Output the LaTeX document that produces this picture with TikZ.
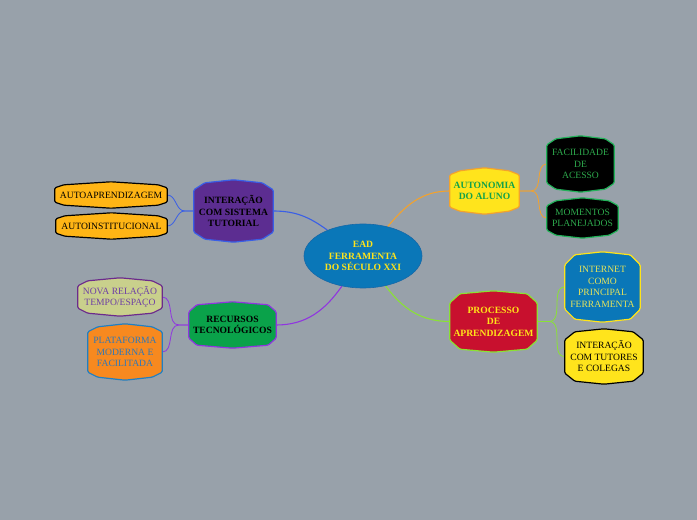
\documentclass[tikz,border=0pt]{standalone}
\usepackage{fontspec}
\setmainfont{Liberation Serif}
\usetikzlibrary{shapes.geometric,calc,backgrounds}
\definecolor{bg}{HTML}{98A1AA}
\definecolor{ctrfill}{HTML}{0A77B8}
\definecolor{ctrdraw}{HTML}{1668A8}
\definecolor{ytxt}{HTML}{FFE419}
\definecolor{purp}{HTML}{5C2D91}
\definecolor{blueline}{HTML}{3A5FE6}
\definecolor{orfill}{HTML}{FFB515}
\definecolor{grfill}{HTML}{0AA24A}
\definecolor{purline}{HTML}{9035E0}
\definecolor{khaki}{HTML}{C9D08C}
\definecolor{khdraw}{HTML}{6C2A8C}
\definecolor{khtxt}{HTML}{6E3FA5}
\definecolor{orange2}{HTML}{F7891F}
\definecolor{pldraw}{HTML}{1F7FC4}
\definecolor{pltxt}{HTML}{2F78B8}
\definecolor{yfill}{HTML}{FFE41C}
\definecolor{orline}{HTML}{F2A22E}
\definecolor{gtxt}{HTML}{13A24A}
\definecolor{gdraw}{HTML}{23B25A}
\definecolor{gtxt2}{HTML}{2DA84C}
\definecolor{crimson}{HTML}{C8102E}
\definecolor{lgline}{HTML}{8AE234}
\definecolor{inettxt}{HTML}{E6E35B}
% #1 name, #2 a (chamfer width), #3 total drop from peak to side corner, #4 style
\newcommand\octo[4]{%
 \path[#4] ($(#1.north west)+(0pt,-#3pt)$) -- ($(#1.north west)+(#2pt,-3pt)$) -- (#1.north) -- ($(#1.north east)+(-#2pt,-3pt)$) -- ($(#1.north east)+(0pt,-#3pt)$) -- ($(#1.south east)+(0pt,#3pt)$) -- ($(#1.south east)+(-#2pt,3pt)$) -- (#1.south) -- ($(#1.south west)+(#2pt,3pt)$) -- ($(#1.south west)+(0pt,#3pt)$) -- cycle;}
\tikzset{
 box/.style={draw=none, inner sep=0pt, align=center, font=\fontsize{9.6}{11.5}\selectfont},
 bbox/.style={box, font=\fontsize{9.6}{11.5}\selectfont\bfseries},
 shp/.style={line width=1.2pt, rounded corners=1.2pt},
 main/.style={line width=1.1pt},
 sub/.style={line width=0.8pt},
}
\begin{document}
\begin{tikzpicture}[x=1pt,y=1pt]
\useasboundingbox (0,0) rectangle (697,520);
% central
\node[ellipse, fill=ctrfill, draw=ctrdraw, line width=0.6pt, minimum width=118pt, minimum height=64pt, inner sep=0pt, align=center, text=ytxt, font=\fontsize{9.6}{11.5}\selectfont\bfseries] (ctr) at (363,264) {EAD\\FERRAMENTA\\DO SÉCULO XXI};
% nodes
\node[bbox, minimum width=79pt, minimum height=62pt] (int) at (233.5,309) {INTERAÇÃO\\COM SISTEMA\\TUTORIAL};
\node[box, minimum width=112pt, minimum height=26pt] (autoap) at (111,325) {AUTOAPRENDIZAGEM};
\node[box, minimum width=111pt, minimum height=26pt] (autoin) at (111.5,294) {AUTOINSTITUCIONAL};
\node[bbox, minimum width=87pt, minimum height=46pt] (rec) at (232.5,195) {RECURSOS\\TECNOLÓGICOS};
\node[box, text=khtxt, minimum width=84pt, minimum height=38pt] (nova) at (120,223) {NOVA RELAÇÃO\\TEMPO/ESPAÇO};
\node[box, text=pltxt, minimum width=74pt, minimum height=56pt] (plat) at (125,168) {PLATAFORMA\\MODERNA E\\FACILITADA};
\node[bbox, text=gtxt, minimum width=69pt, minimum height=46pt] (auto) at (484.5,329) {AUTONOMIA\\DO ALUNO};
\node[box, text=gtxt2, minimum width=67pt, minimum height=56pt] (fac) at (580.5,356) {FACILIDADE\\DE\\ACESSO};
\node[box, text=gtxt2, minimum width=71pt, minimum height=40pt] (mom) at (582.5,302) {MOMENTOS\\PLANEJADOS};
\node[bbox, text=ytxt, minimum width=87pt, minimum height=61pt] (proc) at (493.5,198.5) {PROCESSO\\DE\\APRENDIZAGEM};
\node[box, text=inettxt, minimum width=75pt, minimum height=70pt] (inet) at (602.5,233) {INTERNET\\COMO\\PRINCIPAL\\FERRAMENTA};
\node[box, minimum width=78pt, minimum height=55pt] (tut) at (604,163.5) {INTERAÇÃO\\COM TUTORES\\E COLEGAS};
\begin{pgfonlayer}{background}
\fill[bg] (0,0) rectangle (697,520);
% connectors
\draw[main, blueline] (int.east) to[out=0,in=144] (ctr.144);
\draw[sub, blueline] (int.west) -- ++(-9,0) to[out=180,in=0] (autoap.east);
\draw[sub, blueline] (int.west) -- ++(-9,0) to[out=180,in=0] (autoin.east);
\draw[main, purline] (ctr.235) to[out=235,in=0] (rec.east);
\draw[sub, purline] (rec.west) -- ++(-10,0) to[out=180,in=0] (nova.east);
\draw[sub, purline] (rec.west) -- ++(-10,0) to[out=180,in=0] (plat.east);
\draw[main, orline] (ctr.50) to[out=50,in=180] (auto.west);
\draw[sub, orline] (auto.east) -- ++(12,0) to[out=0,in=180] (fac.west);
\draw[sub, orline] (auto.east) -- ++(12,0) to[out=0,in=180] (mom.west);
\draw[main, lgline] (ctr.307) to[out=307,in=180] (proc.west);
\draw[sub, lgline] (proc.east) -- ++(12,0) to[out=0,in=180] (inet.west);
\draw[sub, lgline] (proc.east) -- ++(12,0) to[out=0,in=180] (tut.west);
% shapes
\octo{int}{11}{10}{shp, fill=purp, draw=blueline}
\octo{autoap}{9}{6}{shp, fill=orfill, draw=black}
\octo{autoin}{9}{6}{shp, fill=orfill, draw=black}
\octo{rec}{8}{10}{shp, fill=grfill, draw=purline}
\octo{nova}{10}{8}{shp, fill=khaki, draw=khdraw}
\octo{plat}{10}{8}{shp, fill=orange2, draw=pldraw}
\octo{auto}{10}{7}{shp, fill=yfill, draw=orline}
\octo{fac}{9}{9}{shp, fill=black, draw=gdraw}
\octo{mom}{9}{8}{shp, fill=black, draw=gdraw}
\octo{proc}{10}{12}{shp, fill=crimson, draw=lgline}
\octo{inet}{10}{13}{shp, fill=ctrfill, draw=ytxt}
\octo{tut}{10}{11}{shp, fill=yfill, draw=black}
\end{pgfonlayer}
\end{tikzpicture}
\end{document}
